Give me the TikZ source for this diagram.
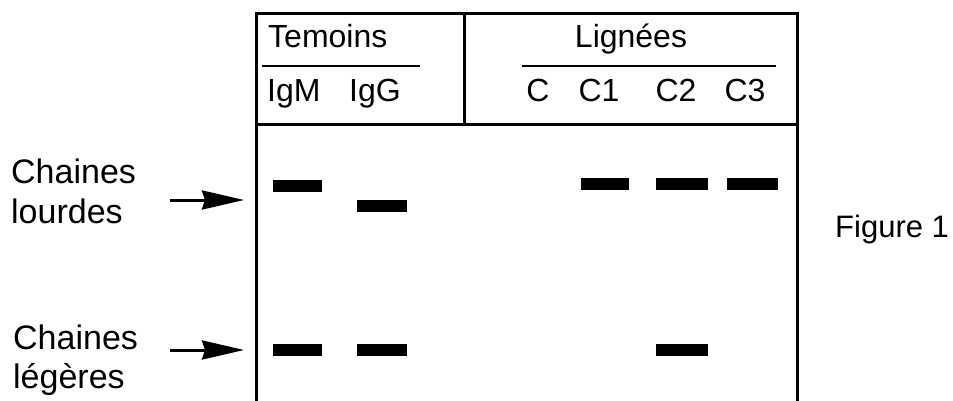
\documentclass[tikz,border=0pt]{standalone}
\usepackage{fontspec}
\setmainfont{Liberation Sans}
\usetikzlibrary{arrows.meta}
\begin{document}
\begin{tikzpicture}[x=1pt,y=-1pt,
  frame/.style={line width=3pt},
  rule/.style={line width=2.6pt},
  band/.style={fill=black},
  hdr/.style={inner sep=0pt,font=\fontsize{32}{38}\selectfont},
  lbl/.style={inner sep=0pt,anchor=base west,font=\fontsize{34}{40}\selectfont},
  pointer/.style={line width=3pt,-{Stealth[length=42pt,width=19pt,inset=3pt]}}]
\useasboundingbox (0,0) rectangle (953,401);
% frame
\coordinate (tl) at (256,14);
\coordinate (tr) at (797,14);
\coordinate (bl) at (256,401);
\coordinate (br) at (797,401);
\coordinate (hl) at (256,125);
\coordinate (hr) at (797,125);
\coordinate (dt) at (464,14);
\coordinate (db) at (464,125);
\draw[frame] (bl) -- (tl) -- (tr) -- (br);
\draw[frame] (hl) -- (hr);
\draw[frame] (dt) -- (db);
% underlines
\coordinate (u1a) at (262,66);
\coordinate (u1b) at (420,66);
\coordinate (u2a) at (522,66);
\coordinate (u2b) at (776,66);
\draw[rule] (u1a) -- (u1b);
\draw[rule] (u2a) -- (u2b);
% header texts
\node[hdr,anchor=base west] (tem) at (268,48) {Temoins};
\node[hdr,anchor=base] (lig) at (631,48) {Lignées};
\node[hdr,anchor=base west] (igm) at (267,102) {IgM};
\node[hdr,anchor=base west] (igg) at (349,102) {IgG};
\node[hdr,anchor=base] (c0) at (538,102) {C};
\node[hdr,anchor=base] (c1) at (599,102) {C1};
\node[hdr,anchor=base] (c2) at (676,102) {C2};
\node[hdr,anchor=base] (c3) at (745,102) {C3};
% bands
\fill[band] (273,180) rectangle (322,192);
\fill[band] (357,200) rectangle (407,212);
\fill[band] (581,178) rectangle (629,190);
\fill[band] (656,178) rectangle (708,190);
\fill[band] (727,178) rectangle (778,190);
\fill[band] (273,344) rectangle (322,356);
\fill[band] (357,344) rectangle (407,356);
\fill[band] (656,344) rectangle (708,356);
% left labels
\node[lbl] (ch1) at (11,183) {Chaines};
\node[lbl] (lo) at (11,223) {lourdes};
\node[lbl] (ch2) at (13,349) {Chaines};
\node[lbl] (le) at (13,388) {légères};
\coordinate (a1s) at (170,200);
\coordinate (a1e) at (244,200);
\coordinate (a2s) at (170,350);
\coordinate (a2e) at (244,350);
\draw[pointer] (a1s) -- (a1e);
\draw[pointer] (a2s) -- (a2e);
% figure label
\node[lbl,font=\fontsize{31}{37}\selectfont] (fig) at (835,237) {Figure 1};
\end{tikzpicture}
\end{document}
